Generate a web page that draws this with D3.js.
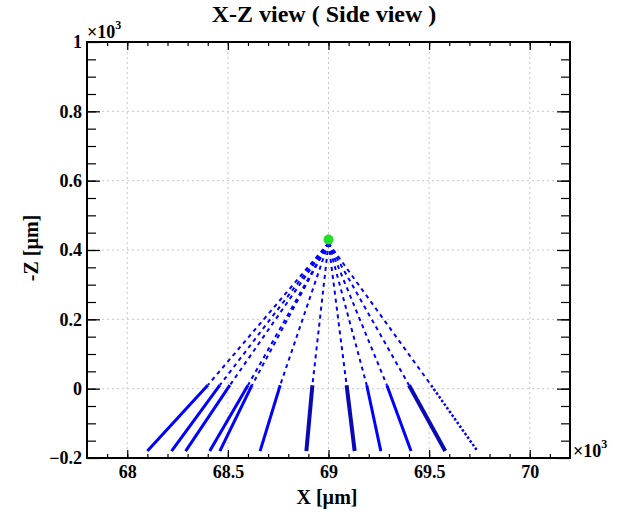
<!DOCTYPE html>
<html>
<head>
<meta charset="utf-8">
<script src="https://d3js.org/d3.v7.min.js"></script>
<style>
  body { margin: 0; background: #fff; }
  text { font-family: "Liberation Serif", "Times New Roman", serif; font-weight: bold; fill: #000; }
  .domain { display: none; }
  .tick line { stroke: #000; stroke-width: 1.2; }
  .tick text { font-size: 18px; }
  .grid line { stroke: #c8c8c8; stroke-dasharray: 2,3; }
</style>
</head>
<body>
<svg width="629" height="512"></svg>
<script>
// values in units of 10^3 um
const xMajor = [68, 68.5, 69, 69.5, 70];
const xTickLabels = ['68', '68.5', '69', '69.5', '70'];
const zMajor = [-0.2, 0, 0.2, 0.4, 0.6, 0.8, 1];
const zTickLabels = ['\u22120.2', '0', '0.2', '0.4', '0.6', '0.8', '1'];

const vertex = [69.0, 0.43];          // green point
const trackStart = [69.0, 0.42];
const midZ = 0.01;                     // dashed -> solid
const endZ = -0.18;
const midX = [68.40, 68.46, 68.51, 68.60, 68.62, 68.76, 68.92, 69.09, 69.19, 69.29, 69.40, 69.51];
const endX = [68.10, 68.22, 68.29, 68.41, 68.46, 68.66, 68.89, 69.13, 69.26, 69.41, 69.58, 69.74];
const hits = [1, 1, 1, 1, 1, 1, 2, 2, 1, 1, 2, 0];   // 0 = no hits below (dotted)

const margin = { left: 87, right: 59, top: 42, bottom: 54 };
const svg = d3.select('svg');
const width = +svg.attr('width');
const height = +svg.attr('height');
const innerWidth = width - margin.left - margin.right;
const innerHeight = height - margin.top - margin.bottom;
const g = svg.append('g').attr('transform', `translate(${margin.left},${margin.top})`);

const xScale = d3.scaleLinear().domain([67.8, 70.2]).range([0, innerWidth]);
const yScale = d3.scaleLinear().domain([-0.2, 1]).range([innerHeight, 0]);

const xMinor = d3.range(67.9, 70.2, 0.1).map(v => +v.toFixed(1));
const zMinor = d3.range(-0.15, 1, 0.05).map(v => +v.toFixed(2));

// grid
g.append('g').attr('class', 'grid')
  .selectAll('line').data(xMajor).join('line')
  .attr('x1', d => xScale(d)).attr('x2', d => xScale(d))
  .attr('y1', 0).attr('y2', innerHeight);
g.append('g').attr('class', 'grid')
  .selectAll('line').data(zMajor.slice(1, -1)).join('line')
  .attr('y1', d => yScale(d)).attr('y2', d => yScale(d))
  .attr('x1', 0).attr('x2', innerWidth);

// tracks: dashed part then hits part
const line = d3.line().x(d => xScale(d[0])).y(d => yScale(d[1]));
midX.forEach((mx, i) => {
  g.append('path')
    .attr('fill', 'none')
    .attr('stroke', '#0000ff')
    .attr('stroke-width', 2)
    .attr('stroke-dasharray', '4,4')
    .attr('d', line([trackStart, [mx, midZ]]));
  const h = hits[i];
  g.append('path')
    .attr('fill', 'none')
    .attr('stroke', h === 2 ? '#0a0ab4' : '#0000ff')
    .attr('stroke-width', h === 0 ? 2.5 : (h === 2 ? 4 : 3))
    .attr('stroke-dasharray', h === 0 ? '2.5,2' : null)
    .attr('d', line([[mx, midZ], [endX[i], endZ]]));
});

// vertex
g.append('circle')
  .attr('cx', xScale(vertex[0]))
  .attr('cy', yScale(vertex[1]))
  .attr('r', 5)
  .attr('fill', '#22e022');

// axes
const fmtX = d => xTickLabels[xMajor.indexOf(d)];
const fmtZ = d => zTickLabels[zMajor.indexOf(d)];
const noText = s => s.selectAll('text').remove();

g.append('g').attr('transform', `translate(0,${innerHeight})`)
  .call(d3.axisBottom(xScale).tickValues(xMinor).tickSize(-4)).call(noText);
g.append('g').attr('transform', `translate(0,${innerHeight})`)
  .call(d3.axisBottom(xScale).tickValues(xMajor).tickSize(-8).tickPadding(7).tickFormat(fmtX));
g.append('g')
  .call(d3.axisTop(xScale).tickValues(xMinor).tickSize(-4)).call(noText);
g.append('g')
  .call(d3.axisTop(xScale).tickValues(xMajor).tickSize(-8)).call(noText);

g.append('g')
  .call(d3.axisLeft(yScale).tickValues(zMinor).tickSize(-9)).call(noText);
g.append('g')
  .call(d3.axisLeft(yScale).tickValues(zMajor).tickSize(-13).tickPadding(5).tickFormat(fmtZ));
g.append('g').attr('transform', `translate(${innerWidth},0)`)
  .call(d3.axisRight(yScale).tickValues(zMinor).tickSize(-9)).call(noText);
g.append('g').attr('transform', `translate(${innerWidth},0)`)
  .call(d3.axisRight(yScale).tickValues(zMajor).tickSize(-13)).call(noText);

// frame
g.append('rect')
  .attr('width', innerWidth).attr('height', innerHeight)
  .attr('fill', 'none').attr('stroke', '#000').attr('stroke-width', 2);

// exponent labels
const expTop = g.append('text').attr('x', 0).attr('y', -4).style('font-size', '18px');
expTop.append('tspan').text('\u00d710');
expTop.append('tspan').attr('dy', -9).style('font-size', '12px').text('3');
const expRight = g.append('text').attr('x', innerWidth + 3).attr('y', innerHeight - 1).style('font-size', '18px');
expRight.append('tspan').text('\u00d710');
expRight.append('tspan').attr('dy', -9).style('font-size', '12px').text('3');

// titles
svg.append('text')
  .attr('x', 324).attr('y', 22)
  .attr('text-anchor', 'middle')
  .style('font-size', '24px')
  .text('X-Z view ( Side view )');
svg.append('text')
  .attr('x', 327).attr('y', 504)
  .attr('text-anchor', 'middle')
  .style('font-size', '20px')
  .text('X [\u00b5m]');
svg.append('text')
  .attr('transform', 'translate(38,248) rotate(-90)')
  .attr('text-anchor', 'middle')
  .style('font-size', '20px')
  .text('-Z [\u00b5m]');
</script>
</body>
</html>
